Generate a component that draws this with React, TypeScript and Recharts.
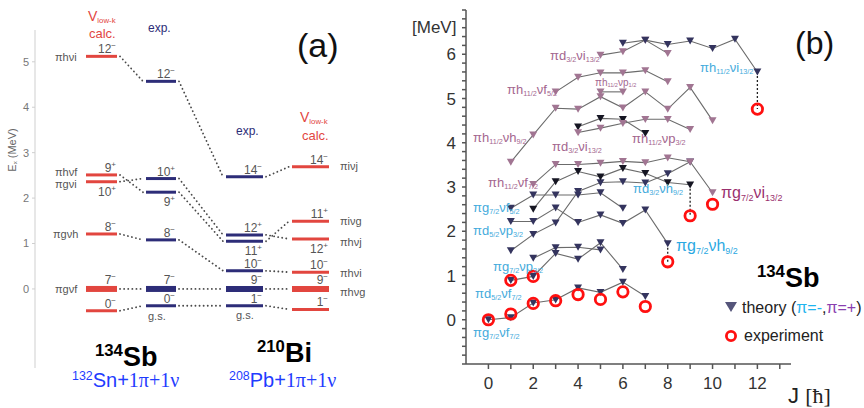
import React from "react";
import { LineChart, Line, XAxis, YAxis, ScatterChart, Scatter, ReferenceLine } from "recharts";

// ---------- (a) level scheme, energies in MeV ----------
const SB_CALC_SPIN = ["12-", "9+", "10+", "8-", "7-", "0-"];
const SB_CALC_E = [5.12, 2.51, 2.36, 1.21, 0, -0.48];
const SB_EXP_SPIN = ["12-", "10+", "9+", "8-", "7-", "0-"];
const SB_EXP_E = [4.57, 2.43, 2.13, 1.08, 0, -0.37];
const BI_EXP_SPIN = ["14-", "12+", "11+", "10-", "9-", "1-"];
const BI_EXP_E = [2.47, 1.19, 1.05, 0.4, 0, -0.37];
const BI_CALC_SPIN = ["14-", "11+", "12+", "10-", "9-", "1-"];
const BI_CALC_E = [2.69, 1.49, 1.1, 0.37, 0, -0.45];
const LEFT_TICKS = [0, 1, 2, 3, 4, 5];

// ---------- (b) multiplets of 134Sb, [J, E(MeV)] ----------
const TH_G7F7 = [[0, 0], [1, 0.05], [2, 0.38], [3, 0.45], [4, 0.72], [5, 0.62], [6, 0.85], [7, 0.53]];
const TH_D5F7 = [[1, 0.89], [2, 0.98], [3, 1.5], [4, 1.37], [5, 1.74], [6, 1.14]];
const TH_G7P3 = [[2, 1.39], [3, 1.63], [4, 1.64], [5, 1.58]];
const TH_RISE = [[1, 1.56], [2, 1.93], [3, 2.19], [4, 2.9], [5, 3.1], [6, 3.12], [7, 3.09], [8, 3.3], [9, 3.57]];
const TH_D5P3 = [[1, 2.22], [2, 2.22], [3, 2.53], [4, 2.2], [5, 2.37], [6, 2.18], [7, 2.48], [8, 1.72]];
const TH_G7F5 = [[1, 2.52], [2, 2.82], [3, 2.82], [4, 2.82], [5, 2.87], [6, 2.52]];
const TH_D3H9 = [[2, 2.5], [3, 3.12], [4, 3.35], [5, 3.23], [6, 3.42], [7, 3.31], [8, 3.1], [9, 3.05]];
const TH_H11F7 = [[2, 3.06], [3, 3.51], [4, 3.51], [5, 3.54], [6, 3.58], [7, 3.55], [8, 3.66], [9, 3.57], [10, 2.87]];
const TH_H11H9 = [[1, 3.56], [2, 4.18], [3, 4.78], [4, 4.76], [5, 5.04], [6, 4.79], [7, 5.15], [8, 4.76], [9, 5.25], [10, 4.5]];
const TH_H11F5 = [[3, 5.15], [4, 5.48], [5, 5.58], [6, 5.58], [7, 5.63], [8, 5.38]];
const TH_H11P1 = [[5, 5.15], [6, 5.15]];
const TH_D3I13A = [[5, 5.98], [6, 6.06], [7, 6.32], [8, 6.02]];
const TH_H11I13 = [[6, 6.25], [7, 6.32], [8, 6.22], [9, 6.3], [10, 6.13], [11, 6.34], [12, 5.6]];
const TH_H11P3 = [[4, 4.36], [5, 4.55], [6, 4.53], [7, 4.21]];
const TH_D3I13B = [[4, 4.23], [5, 4.33], [6, 4.44], [7, 4.53], [8, 4.53], [9, 4.3]];

const EXP_J = [0, 1, 2, 3, 4, 5, 6, 7, 1, 2, 8, 9, 10, 12];
const EXP_E = [0, 0.13, 0.37, 0.43, 0.57, 0.46, 0.63, 0.3, 0.89, 0.98, 1.31, 2.35, 2.61, 4.76];
// theory level -> measured level, [J, E theory, E exp]
const LINKS = [[8, 1.72, 1.31], [9, 3.05, 2.35], [12, 5.6, 4.76]];

const X_TICKS = [0, 1, 2, 3, 4, 5, 6, 7, 8, 9, 10, 11, 12, 13];
const Y_TICKS = Array.from({ length: 41 }, (_, i) => Math.round((-1 + i * 0.2) * 10) / 10);

const SANS = "'Liberation Sans', Arial, sans-serif";
const SERIF = "'Liberation Serif', 'Times New Roman', serif";
const RED = "#e2463f";
const NAVY = "#2d2d78";
const TRI_NAVY = "#34345e";
const TRI_DARK = "#151522";
const TRI_PINK = "#a17592";
const PINK_TXT = "#a4668f";
const CYAN_TXT = "#45abdc";

const COLS = [
  { spins: SB_CALC_SPIN, e: SB_CALC_E, x0: 86, x1: 117, color: RED, below: ["10+"] },
  { spins: SB_EXP_SPIN, e: SB_EXP_E, x0: 146, x1: 176, color: NAVY, below: ["9+"] },
  { spins: BI_EXP_SPIN, e: BI_EXP_E, x0: 226, x1: 263, color: NAVY, below: ["11+"] },
  { spins: BI_CALC_SPIN, e: BI_CALC_E, x0: 292, x1: 329, color: RED, below: ["12+"] },
];
const THICK = ["7-", "9-"];

const toPts = (arr: number[][]) => arr.map(([j, e]) => ({ j, e }));

const spinLabel = (spin: string, below: boolean, thick: boolean) => (p: any) => {
  if (p.index !== 1) return <g />;
  const sign = spin.endsWith("+") ? "+" : "\u2212";
  const y = below ? p.y + 14 : p.y - (thick ? 5 : 3);
  return (
    <text x={p.x - 1} y={y} textAnchor="end" fontSize={12} fill="#555" fontFamily={SANS}>
      {spin.slice(0, -1)}
      <tspan dy={-5} fontSize={8}>{sign}</tspan>
    </text>
  );
};

function LevelScheme() {
  const links: React.ReactNode[] = [];
  const pairs: [number, number, boolean][] = [[0, 1, false], [1, 2, true], [2, 3, false]];
  pairs.forEach(([a, b, byIndex]) => {
    COLS[a].e.forEach((e, i) => {
      const k = byIndex ? i : COLS[b].spins.indexOf(COLS[a].spins[i]);
      links.push(
        <Line
          key={`c${a}-${i}`}
          data={[{ x: COLS[a].x1 + 3, y: e }, { x: COLS[b].x0 - 3, y: COLS[b].e[k] }]}
          dataKey="y"
          stroke="#4a4a4a"
          strokeWidth={1.8}
          strokeDasharray="0.1 4"
          strokeLinecap="round"
          dot={false}
          isAnimationActive={false}
        />
      );
    });
  });
  const levels: React.ReactNode[] = [];
  COLS.forEach((c, ci) =>
    c.e.forEach((e, i) => {
      const spin = c.spins[i];
      const thick = THICK.includes(spin);
      levels.push(
        <Line
          key={`l${ci}-${i}`}
          data={[{ x: c.x0, y: e }, { x: c.x1, y: e }]}
          dataKey="y"
          stroke={c.color}
          strokeWidth={thick ? 6 : 3}
          dot={false}
          isAnimationActive={false}
          label={spinLabel(spin, c.below.includes(spin), thick)}
        />
      );
    })
  );
  return (
    <LineChart width={440} height={408} margin={{ top: 30, right: 0, bottom: 40, left: 0 }} style={{ position: "absolute", left: 0, top: 0 }}>
      <XAxis type="number" dataKey="x" domain={[35, 440]} hide allowDataOverflow />
      <YAxis
        type="number"
        domain={[-1.74, 5.7]}
        ticks={LEFT_TICKS}
        width={35}
        stroke="#cfcfcf"
        tickSize={3}
        tickMargin={3}
        tick={{ fontSize: 11, fill: "#777", fontFamily: SANS }}
        allowDataOverflow
      />
      {links}
      {levels}
    </LineChart>
  );
}

const triShape = (color: string) => (p: any) => (
  <path d={`M${p.cx - 4},${p.cy - 3.4}L${p.cx + 4},${p.cy - 3.4}L${p.cx},${p.cy + 3.6}Z`} fill={color} />
);
const ringShape = (p: any) => <circle cx={p.cx} cy={p.cy} r={5.2} fill="none" stroke="#ff1010" strokeWidth={2.8} />;

const SERIES = [
  { pts: TH_G7F7, color: TRI_NAVY },
  { pts: TH_D5F7, color: TRI_NAVY },
  { pts: TH_G7P3, color: TRI_NAVY },
  { pts: TH_RISE, color: TRI_NAVY },
  { pts: TH_D5P3, color: TRI_NAVY },
  { pts: TH_G7F5, color: TRI_NAVY },
  { pts: TH_D3H9, color: TRI_DARK },
  { pts: TH_H11F7, color: TRI_PINK },
  { pts: TH_H11H9, color: TRI_PINK },
  { pts: TH_H11F5, color: TRI_PINK },
  { pts: TH_H11P1, color: TRI_PINK },
  { pts: TH_D3I13A, color: TRI_PINK },
  { pts: TH_H11I13, color: TRI_NAVY },
  { pts: TH_H11P3, color: TRI_DARK },
  { pts: TH_D3I13B, color: TRI_PINK },
];

function SpinPlot() {
  const expPts = EXP_J.map((j, i) => ({ j, e: EXP_E[i] }));
  return (
    <ScatterChart width={464} height={408} margin={{ top: 10, right: 73, bottom: 0, left: 0 }} style={{ position: "absolute", left: 400, top: 0 }}>
      <XAxis
        type="number"
        dataKey="j"
        domain={[-1, 13.5]}
        ticks={X_TICKS}
        allowDataOverflow
        height={44}
        stroke="#555"
        strokeWidth={1.5}
        tickSize={5}
        tickMargin={8}
        tickFormatter={(v: number) => (v % 2 === 0 && v <= 12 ? String(v) : "")}
        tick={{ fontSize: 17, fill: "#333", fontFamily: SANS }}
      />
      <YAxis
        type="number"
        dataKey="e"
        domain={[-1, 7]}
        ticks={Y_TICKS}
        allowDataOverflow
        width={66}
        stroke="#555"
        strokeWidth={1.5}
        tickSize={4}
        tickMargin={6}
        interval={0}
        tickFormatter={(v: number) => (Number.isInteger(v) && v >= 0 && v <= 6 ? String(v) : "")}
        tick={{ fontSize: 17, fill: "#333", fontFamily: SANS }}
      />
      {LINKS.map(([j, a, b], i) => (
        <ReferenceLine key={`d${i}`} segment={[{ x: j, y: a }, { x: j, y: b }]} stroke="#222" strokeWidth={1.3} strokeDasharray="2 2" />
      ))}
      {SERIES.map((s, i) => (
        <Scatter
          key={`s${i}`}
          data={toPts(s.pts)}
          line={{ stroke: "#6b6b6b", strokeWidth: 1.1 }}
          shape={triShape(s.color)}
          isAnimationActive={false}
        />
      ))}
      <Scatter data={expPts} shape={ringShape} isAnimationActive={false} />
    </ScatterChart>
  );
}

const Txt = ({ x, y, size = 12, color = "#555", font = SANS, weight = 400, children }: any) => (
  <div
    style={{
      position: "absolute",
      left: x,
      top: y,
      transform: "translateY(-50%)",
      fontSize: size,
      color,
      fontFamily: font,
      fontWeight: weight,
      lineHeight: 1,
      whiteSpace: "nowrap",
    }}
  >
    {children}
  </div>
);

const Sub = ({ children }: any) => (
  <span style={{ fontSize: "0.56em", verticalAlign: "-0.25em" }}>{children}</span>
);
const Sup = ({ children }: any) => (
  <span style={{ fontSize: "0.62em", verticalAlign: "0.55em" }}>{children}</span>
);

// configuration labels for panel (b): [left, centerY, p, pj, n, nj, color, size]
const CONF_LABELS: [number, number, string, string, string, string, string, number][] = [
  [550, 56, "d", "3/2", "i", "13/2", PINK_TXT, 13],
  [507, 90, "h", "11/2", "f", "5/2", PINK_TXT, 13],
  [595, 83, "h", "11/2", "p", "1/2", PINK_TXT, 10],
  [473, 138, "h", "11/2", "h", "9/2", PINK_TXT, 13],
  [552, 147, "d", "3/2", "i", "13/2", PINK_TXT, 13],
  [632, 139, "h", "11/2", "p", "3/2", PINK_TXT, 13],
  [488, 183, "h", "11/2", "f", "7/2", PINK_TXT, 13],
  [473, 208, "g", "7/2", "f", "5/2", CYAN_TXT, 13],
  [633, 189, "d", "3/2", "h", "9/2", CYAN_TXT, 13],
  [473, 231, "d", "5/2", "p", "3/2", CYAN_TXT, 13],
  [493, 267, "g", "7/2", "p", "3/2", CYAN_TXT, 13],
  [475, 294, "d", "5/2", "f", "7/2", CYAN_TXT, 13],
  [473, 333, "g", "7/2", "f", "7/2", CYAN_TXT, 13],
  [700, 68, "h", "11/2", "i", "13/2", CYAN_TXT, 13],
  [721, 194, "g", "7/2", "i", "13/2", "#9a2f6e", 16],
  [676, 247, "g", "7/2", "h", "9/2", "#2aa8e2", 16],
];

// configuration labels for panel (a): [left, centerY, text]
const A_LABELS: [number, number, string][] = [
  [55, 57, "\u03c0h\u03bdi"],
  [55, 172, "\u03c0h\u03bdf"],
  [55, 184, "\u03c0g\u03bdi"],
  [53, 234, "\u03c0g\u03bdh"],
  [55, 289, "\u03c0g\u03bdf"],
  [340, 166, "\u03c0i\u03bdj"],
  [340, 221, "\u03c0i\u03bdg"],
  [340, 242, "\u03c0h\u03bdj"],
  [340, 273, "\u03c0h\u03bdi"],
  [340, 292, "\u03c0h\u03bdg"],
];

export default function App() {
  return (
    <div style={{ position: "absolute", left: 0, top: 0, width: 864, height: 408, background: "#fff", overflow: "hidden", fontFamily: SANS }}>
      <LevelScheme />
      <SpinPlot />

      {/* panel (a) texts */}
      <div
        style={{
          position: "absolute",
          left: 12,
          top: 150,
          transform: "translate(-50%,-50%) rotate(-90deg)",
          fontSize: 11,
          color: "#666",
          whiteSpace: "nowrap",
        }}
      >
        E<Sub>x</Sub> (MeV)
      </div>
      <Txt x={88} y={17} size={14} color={RED}>V<Sub>low-k</Sub></Txt>
      <Txt x={89} y={33} size={13} color={RED}>calc.</Txt>
      <Txt x={148} y={28} size={12} color={NAVY}>exp.</Txt>
      <Txt x={236} y={131} size={12} color={NAVY}>exp.</Txt>
      <Txt x={300} y={118} size={14} color={RED}>V<Sub>low-k</Sub></Txt>
      <Txt x={302} y={135} size={13} color={RED}>calc.</Txt>
      <Txt x={148} y={316} size={11} color="#555">g.s.</Txt>
      <Txt x={236} y={315} size={11} color="#555">g.s.</Txt>
      {A_LABELS.map(([x, y, t], i) => (
        <Txt key={`a${i}`} x={x} y={y} size={11} color="#555">{t}</Txt>
      ))}
      <Txt x={297} y={45} size={34} color="#111">(a)</Txt>
      <Txt x={95} y={357} size={27} color="#000" weight={700}><Sup>134</Sup>Sb</Txt>
      <Txt x={72} y={380} size={20} color="#1f3cff">
        <Sup>132</Sup>Sn+<span style={{ fontFamily: SERIF }}>1&pi;+1&nu;</span>
      </Txt>
      <Txt x={257} y={353} size={27} color="#000" weight={700}><Sup>210</Sup>Bi</Txt>
      <Txt x={229} y={380} size={20} color="#1f3cff">
        <Sup>208</Sup>Pb+<span style={{ fontFamily: SERIF }}>1&pi;+1&nu;</span>
      </Txt>

      {/* panel (b) texts */}
      <Txt x={412} y={27} size={17} color="#333">[MeV]</Txt>
      <Txt x={795} y={43} size={32} color="#111">(b)</Txt>
      {CONF_LABELS.map(([x, y, p, pj, n, nj, c, s], i) => (
        <Txt key={`b${i}`} x={x} y={y} size={s} color={c}>
          &pi;{p}<Sub>{pj}</Sub>&nu;{n}<Sub>{nj}</Sub>
        </Txt>
      ))}
      <Txt x={757} y={278} size={27} color="#000" weight={700}><Sup>134</Sup>Sb</Txt>
      <svg width={14} height={14} style={{ position: "absolute", left: 724, top: 300 }}>
        <path d="M1,2L13,2L7,12Z" fill="#55557a" />
      </svg>
      <Txt x={742} y={308} size={16} color="#222">
        theory (<span style={{ color: "#1fb4ee" }}>&pi;=-</span>,<span style={{ color: "#8a3fb0" }}>&pi;=+</span>)
      </Txt>
      <svg width={14} height={14} style={{ position: "absolute", left: 724, top: 329 }}>
        <circle cx={7} cy={7} r={4.6} fill="none" stroke="#ff1010" strokeWidth={2.8} />
      </svg>
      <Txt x={744} y={336} size={16} color="#222">experiment</Txt>
      <Txt x={788} y={396} size={22} color="#222">
        J <span style={{ fontFamily: SERIF }}>[&#295;]</span>
      </Txt>
    </div>
  );
}
